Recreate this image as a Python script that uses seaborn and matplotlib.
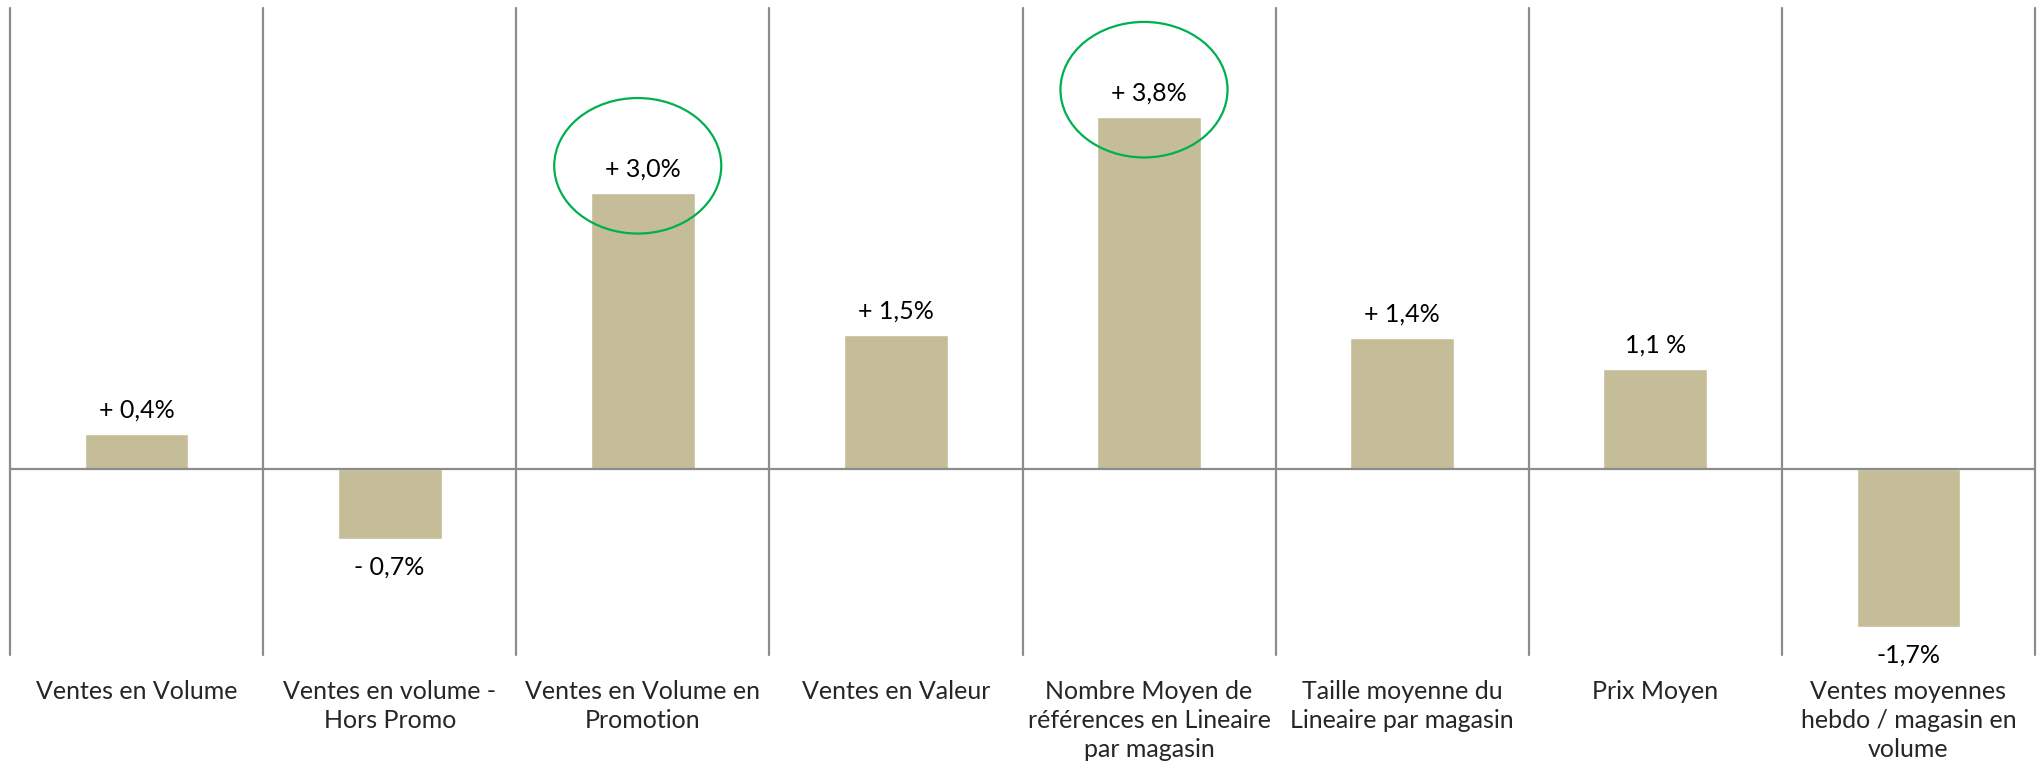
import matplotlib
matplotlib.use("Agg")
import matplotlib.pyplot as plt
from matplotlib.patches import Ellipse
import pandas as pd
import seaborn as sns

# data
categories = ["Ventes en Volume", "Ventes en volume -\nHors Promo",
              "Ventes en Volume en\nPromotion", "Ventes en Valeur",
              "Nombre Moyen de\nréférences en Lineaire\npar magasin",
              "Taille moyenne du\nLineaire par magasin", "Prix Moyen",
              "Ventes moyennes\nhebdo / magasin en\nvolume"]
values = [0.38, -0.75, 2.98, 1.45, 3.80, 1.41, 1.08, -1.70]
value_labels = ["+ 0,4%", "- 0,7%", "+ 3,0%", "+ 1,5%", "+ 3,8%", "+ 1,4%", "1,1 %", "-1,7%"]
circled = [2, 4]

bar_color = "#C4BD97"
line_color = "#8C8C8C"
circle_color = "#00B050"

sns.set_style("white")
plt.rcParams["font.family"] = ["Lato", "DejaVu Sans"]

df = pd.DataFrame({"categorie": categories, "valeur": values})

fig = plt.figure(figsize=(20.41, 7.69), dpi=100)
ax = fig.add_axes([10 / 2041, 1 - 655 / 769, 2025 / 2041, 647 / 769])

sns.barplot(data=df, x="categorie", y="valeur", order=categories, color=bar_color,
            saturation=1, width=0.41, ax=ax)

ax.set_xlim(-0.5, len(categories) - 0.5)
ax.set_ylim(-2, 4.97)

# separators between categories and zero line
for i in range(len(categories) + 1):
    ax.axvline(i - 0.5, color=line_color, linewidth=1.6, clip_on=False, zorder=0)
ax.axhline(0, color=line_color, linewidth=1.6, zorder=3)

# value labels
for i, (v, lab) in enumerate(zip(values, value_labels)):
    if v >= 0:
        ax.annotate(lab, (i, v), xytext=(0, 9), textcoords="offset points",
                    ha="center", va="bottom", fontsize=18, color="black")
    else:
        ax.annotate(lab, (i, v), xytext=(0, -12), textcoords="offset points",
                    ha="center", va="top", fontsize=18, color="black")

# green circles around the highlighted values
for i in circled:
    ax.add_patch(Ellipse((i - 0.02, values[i] + 0.29), 0.66, 1.46, fill=False,
                         edgecolor=circle_color, linewidth=1.6, zorder=4))

for s in ax.spines.values():
    s.set_visible(False)
ax.set_yticks([])
ax.set_xlabel("")
ax.set_ylabel("")
ax.tick_params(axis="x", length=0, pad=18, labelsize=18)
for t in ax.get_xticklabels():
    t.set_linespacing(1.32)

fig.savefig("out.png", dpi=100)
